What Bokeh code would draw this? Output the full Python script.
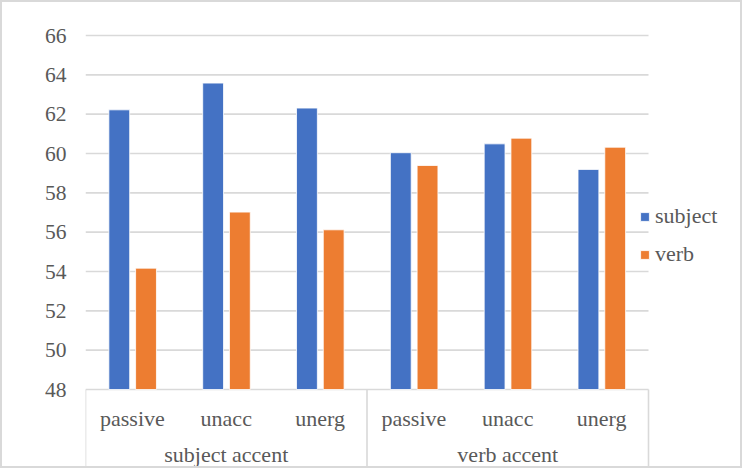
from bokeh.plotting import figure
from bokeh.models import ColumnDataSource, Range1d, FixedTicker
from bokeh.transform import dodge
from bokeh.core.properties import value
from bokeh.embed import file_html
from bokeh.resources import INLINE

# ---- data ----
groups = ["subject accent", "verb accent"]
verb_types = ["passive", "unacc", "unerg"]
subject_vals = [62.22, 63.58, 62.31, 60.04, 60.49, 59.19]
verb_vals = [54.17, 57.02, 56.12, 59.39, 60.78, 60.32]
y_ticks = [48, 50, 52, 54, 56, 58, 60, 62, 64, 66]
y_tick_labels = ["48", "50", "52", "54", "56", "58", "60", "62", "64", "66"]
series_names = ["subject", "verb"]
series_colors = ["#4472C4", "#ED7D31"]

# ---- layout constants (pixels) ----
# The canvas is W x H, offset by the 2px CSS border and clipped to W-4 x H-4.
W, H = 742, 468
BW = 2
IW, IH = W - 2 * BW, H - 2 * BW        # visible canvas area
MIN_L, MIN_T = 83, 18
MIN_R, MIN_B = W - IW, H - IH          # keep frame edges inside the visible area
CAT_RIGHT = 646                        # canvas x where the last category ends
FRAME_W = W - MIN_L - MIN_R
FRAME_H = H - MIN_T - MIN_B
Y_TOP_PX, Y_BOT_PX = 15, 369           # frame-relative pixel of top / bottom tick
ymin_t, ymax_t = y_ticks[0], y_ticks[-1]
ppu = (Y_BOT_PX - Y_TOP_PX) / (ymax_t - ymin_t)
y_hi = ymax_t + Y_TOP_PX / ppu
y_lo = ymin_t - (FRAME_H - Y_BOT_PX) / ppu
sub_label_y = ymin_t - 29 / ppu        # centre of category labels
grp_label_y = ymin_t - 65 / ppu        # centre of group labels

FONT = "Liberation Serif"
TXT = "#595959"
GRID = "#d9d9d9"

# ---- categorical positions derived from the category lists ----
factors = [(g, t) for g in groups for t in verb_types]
n_cat = len(factors)
x_pos = list(range(n_cat))
cat_px = (CAT_RIGHT - MIN_L) / n_cat
x_start = -0.5
x_end = x_start + FRAME_W / cat_px
cat_lo, cat_hi = x_pos[0] - 0.5, x_pos[-1] + 0.5

src = ColumnDataSource(dict(x=x_pos, subject=subject_vals, verb=verb_vals,
                            label=[t for g, t in factors]))

p = figure(width=W, height=H, x_range=Range1d(x_start, x_end),
           y_range=Range1d(y_lo, y_hi),
           output_backend="svg", toolbar_location=None, x_axis_location=None,
           min_border_left=MIN_L, min_border_right=MIN_R,
           min_border_top=MIN_T, min_border_bottom=MIN_B,
           styles={"border": "2px solid #d9d9d9", "box-sizing": "border-box"})
p.outline_line_color = None
p.background_fill_color = "white"
p.border_fill_color = "white"
p.xgrid.grid_line_color = None
p.ygrid.grid_line_color = None

# horizontal gridlines (only across the category area)
p.segment(x0=[cat_lo] * len(y_ticks), x1=[cat_hi] * len(y_ticks),
          y0=y_ticks, y1=y_ticks, line_color=GRID, line_width=1.6)

# category box separators
n_sub = len(verb_types)
sep_x = [x_pos[i * n_sub] - 0.5 for i in range(len(groups))] + [cat_hi]
p.segment(x0=sep_x, x1=sep_x, y0=[y_lo] * len(sep_x), y1=[ymin_t] * len(sep_x),
          line_color=GRID, line_width=1.6)

# bars
offsets = [-0.14, 0.145]
for name, col, off in zip(series_names, series_colors, offsets):
    p.vbar(x=dodge("x", off), top=name, bottom=ymin_t,
           width=0.222, source=src, fill_color=col, line_color="white",
           line_width=0.8, legend_label=name)

# y axis
ax = p.yaxis[0]
ax.ticker = FixedTicker(ticks=y_ticks)
ax.major_label_overrides = {t: l for t, l in zip(y_ticks, y_tick_labels)}
ax.axis_line_color = None
ax.major_tick_line_color = None
ax.minor_tick_line_color = None
ax.major_tick_out = 0
ax.major_tick_in = 0
ax.major_label_standoff = 19
ax.major_label_text_font = FONT
ax.major_label_text_font_size = "21.5px"
ax.major_label_text_color = TXT

# category labels
p.text(x="x", y=sub_label_y, text="label", source=src, text_align="center",
       text_baseline="middle", text_font=value(FONT), text_font_size="22px",
       text_color=TXT)
grp_x = [sum(x_pos[i * n_sub:(i + 1) * n_sub]) / n_sub for i in range(len(groups))]
p.text(x=grp_x, y=[grp_label_y] * len(groups), text=groups, text_align="center",
       text_baseline="middle", text_font=value(FONT), text_font_size="22px",
       text_color=TXT)

# legend
lg = p.legend[0]
lg.location = (554, 199)
lg.border_line_color = None
lg.background_fill_alpha = 0
lg.padding = 0
lg.margin = 0
lg.spacing = 12
lg.glyph_width = 11
lg.glyph_height = 11
lg.label_height = 24
lg.label_standoff = 5
lg.label_text_font = FONT
lg.label_text_font_size = "22px"
lg.label_text_color = TXT

open("out.html", "w").write(file_html(p, INLINE))
